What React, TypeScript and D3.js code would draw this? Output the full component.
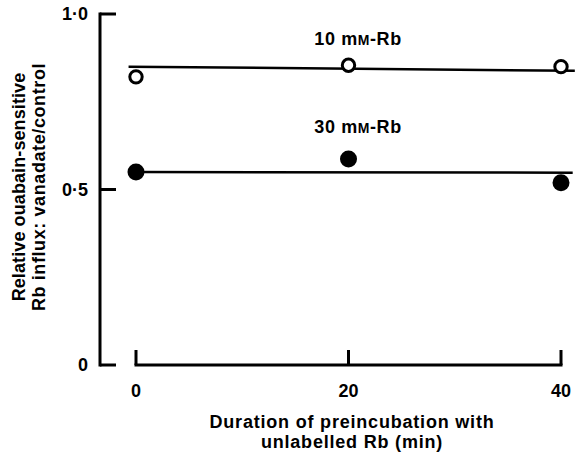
import React from 'react';
import * as d3 from 'd3';

// preincubation time (min)
const times = [0, 20, 40];
// relative ouabain-sensitive Rb influx, vanadate/control
const rb10 = [0.821, 0.854, 0.85];
const rb30 = [0.55, 0.587, 0.519];
// hand-drawn fitted lines (x in min, y in relative units)
const fit10: [number, number][] = [[-0.7, 0.85], [41.3, 0.838]];
const fit30: [number, number][] = [[0, 0.55], [41.1, 0.548]];

const yTicks = [0, 0.5, 1.0];
const yTickLabels = ['0', '0·5', '1·0'];
const xTicks = [0, 20, 40];

const W = 575;
const H = 453;
const axisX = 100;
const font = 'Liberation Sans, Arial, Helvetica, sans-serif';

export default function App() {
  const x = d3.scaleLinear().domain([0, 40]).range([136, 561]);
  const y = d3.scaleLinear().domain([0, 1]).range([365, 14]);

  const line = d3
    .line<[number, number]>()
    .x(d => x(d[0]))
    .y(d => y(d[1]));

  const pts10 = times.map((t, i) => ({ t, v: rb10[i] }));
  const pts30 = times.map((t, i) => ({ t, v: rb30[i] }));

  const txt = { fontFamily: font, fontSize: 18, fontWeight: 'bold', fill: '#000' } as const;

  return (
    <svg
      width={W}
      height={H}
      style={{ position: 'absolute', left: 0, top: 0, background: '#fff' }}
    >
      {/* y axis */}
      <line x1={axisX} x2={axisX} y1={y(0) + 1.5} y2={y(1) - 1.5} stroke="#000" strokeWidth={3} />
      {yTicks.map((t, i) => (
        <g key={t}>
          <line x1={axisX} x2={axisX + 16} y1={y(t)} y2={y(t)} stroke="#000" strokeWidth={3} />
          <text {...txt} x={axisX - 12} y={y(t)} dy="0.36em" textAnchor="end">
            {yTickLabels[i]}
          </text>
        </g>
      ))}

      {/* x axis */}
      <line x1={x(0) - 1.5} x2={x(40) + 1.5} y1={y(0)} y2={y(0)} stroke="#000" strokeWidth={3} />
      {xTicks.map(t => (
        <g key={t}>
          <line x1={x(t)} x2={x(t)} y1={y(0)} y2={y(0) - 15} stroke="#000" strokeWidth={3} />
          <text {...txt} x={x(t)} y={397} textAnchor="middle">
            {t}
          </text>
        </g>
      ))}

      {/* fitted lines */}
      <path d={line(fit10) ?? ''} fill="none" stroke="#000" strokeWidth={2.5} />
      <path d={line(fit30) ?? ''} fill="none" stroke="#000" strokeWidth={2.5} />

      {/* points */}
      {pts10.map(d => (
        <circle key={'a' + d.t} cx={x(d.t)} cy={y(d.v)} r={6.2} fill="#fff" stroke="#000" strokeWidth={3} />
      ))}
      {pts30.map(d => (
        <circle key={'b' + d.t} cx={x(d.t)} cy={y(d.v)} r={8.5} fill="#000" />
      ))}

      {/* series labels */}
      <text {...txt} x={x(20.9)} y={y(0.912)} textAnchor="middle" letterSpacing={0.6}>
        10 m<tspan fontSize={14}>M</tspan>-Rb
      </text>
      <text {...txt} x={x(20.9)} y={y(0.661)} textAnchor="middle" letterSpacing={0.6}>
        30 m<tspan fontSize={14}>M</tspan>-Rb
      </text>

      {/* axis titles */}
      <text {...txt} x={352} y={428} textAnchor="middle" letterSpacing={0.8}>
        Duration of preincubation with
      </text>
      <text {...txt} x={352} y={448} textAnchor="middle" letterSpacing={0.8}>
        unlabelled Rb (min)
      </text>
      <g transform="translate(25,187) rotate(-90)">
        <text {...txt} x={0} y={0} textAnchor="middle" letterSpacing={0.1}>
          Relative ouabain-sensitive
        </text>
        <text {...txt} x={0} y={20} textAnchor="middle" letterSpacing={0.6}>
          Rb influx: vanadate/control
        </text>
      </g>
    </svg>
  );
}
